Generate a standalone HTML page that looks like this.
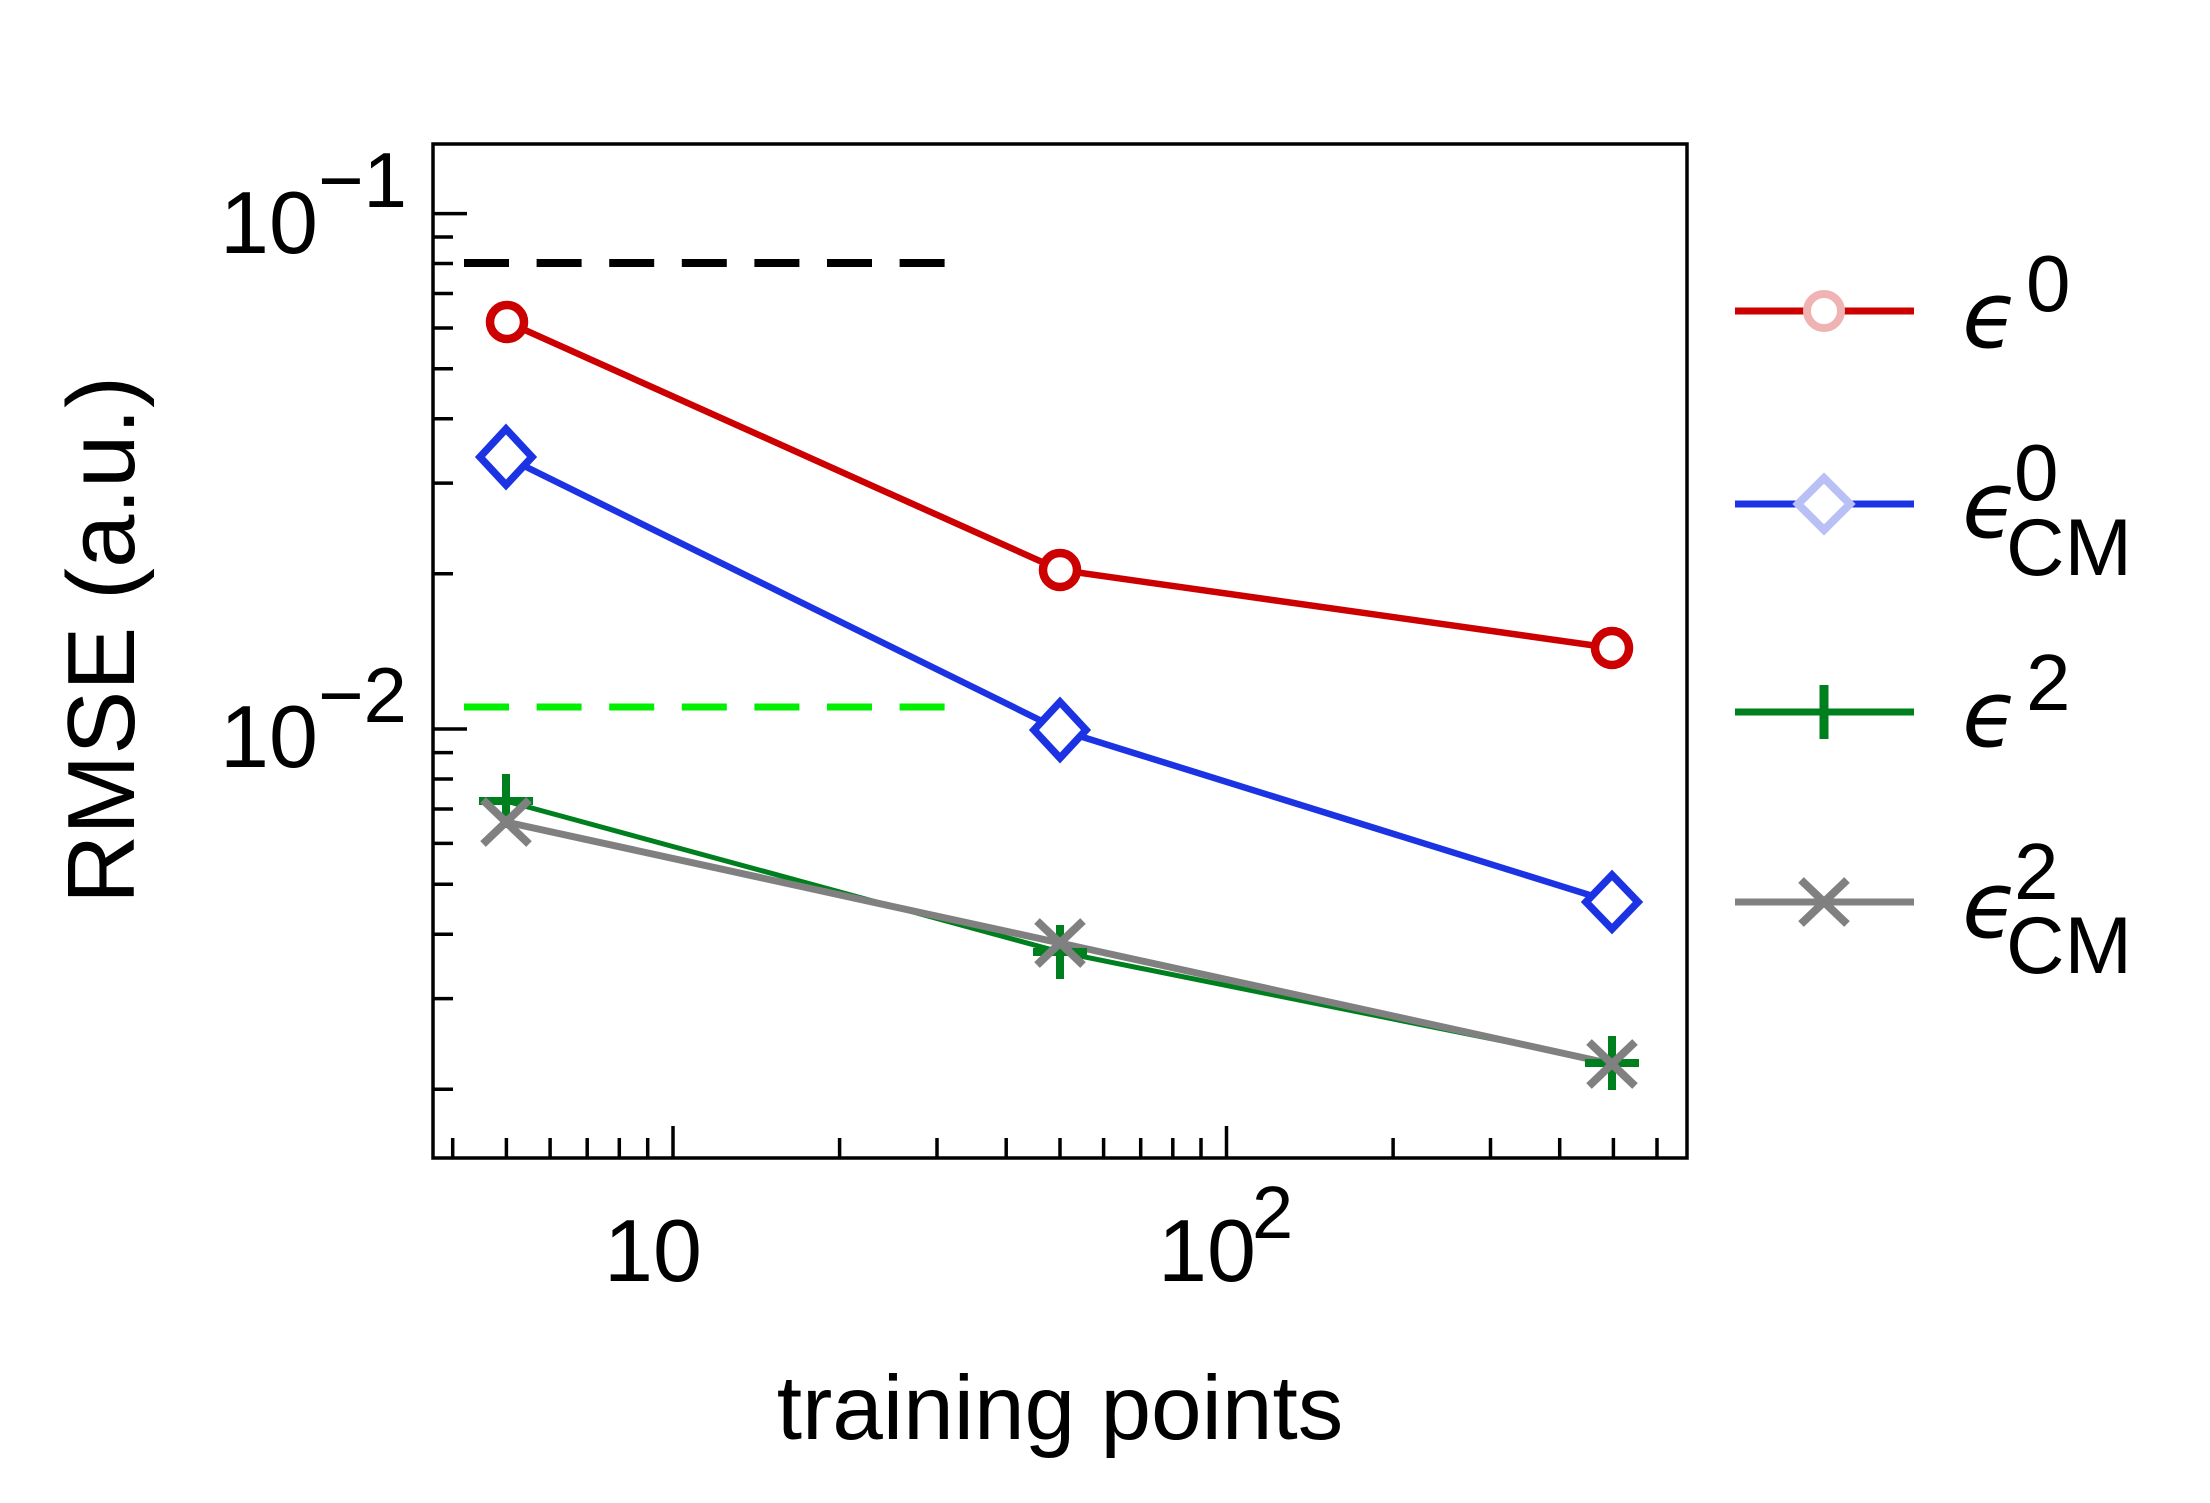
<!DOCTYPE html>
<html><head><meta charset="utf-8"><style>
html,body{margin:0;padding:0;background:#fff;}
svg{display:block;}
text{font-family:"Liberation Sans","DejaVu Sans",sans-serif;fill:#000;}
.eps{font-family:"DejaVu Sans","Liberation Sans",sans-serif;font-style:italic;}
</style></head><body>
<svg width="2210" height="1503" viewBox="0 0 2210 1503" xmlns="http://www.w3.org/2000/svg">
<rect width="2210" height="1503" fill="#fff"/>
<g stroke="#000" stroke-width="3.5">
<line x1="433" y1="213.6" x2="467" y2="213.6"/>
<line x1="433" y1="729" x2="467" y2="729"/>
<line x1="433" y1="1089.3" x2="453" y2="1089.3"/>
<line x1="433" y1="998.6" x2="453" y2="998.6"/>
<line x1="433" y1="934.2" x2="453" y2="934.2"/>
<line x1="433" y1="884.2" x2="453" y2="884.2"/>
<line x1="433" y1="843.4" x2="453" y2="843.4"/>
<line x1="433" y1="809" x2="453" y2="809"/>
<line x1="433" y1="779" x2="453" y2="779"/>
<line x1="433" y1="752.6" x2="453" y2="752.6"/>
<line x1="433" y1="573.8" x2="453" y2="573.8"/>
<line x1="433" y1="483.1" x2="453" y2="483.1"/>
<line x1="433" y1="418.7" x2="453" y2="418.7"/>
<line x1="433" y1="368.7" x2="453" y2="368.7"/>
<line x1="433" y1="328" x2="453" y2="328"/>
<line x1="433" y1="293.5" x2="453" y2="293.5"/>
<line x1="433" y1="263.5" x2="453" y2="263.5"/>
<line x1="433" y1="237" x2="453" y2="237"/>
<line x1="673" y1="1158" x2="673" y2="1126"/>
<line x1="1226.5" y1="1158" x2="1226.5" y2="1126"/>
<line x1="452.7" y1="1158" x2="452.7" y2="1138"/>
<line x1="506.4" y1="1158" x2="506.4" y2="1138"/>
<line x1="550.1" y1="1158" x2="550.1" y2="1138"/>
<line x1="587.2" y1="1158" x2="587.2" y2="1138"/>
<line x1="619.3" y1="1158" x2="619.3" y2="1138"/>
<line x1="647.7" y1="1158" x2="647.7" y2="1138"/>
<line x1="839.6" y1="1158" x2="839.6" y2="1138"/>
<line x1="937" y1="1158" x2="937" y2="1138"/>
<line x1="1006.2" y1="1158" x2="1006.2" y2="1138"/>
<line x1="1060" y1="1158" x2="1060" y2="1138"/>
<line x1="1103.6" y1="1158" x2="1103.6" y2="1138"/>
<line x1="1140.7" y1="1158" x2="1140.7" y2="1138"/>
<line x1="1172.8" y1="1158" x2="1172.8" y2="1138"/>
<line x1="1201" y1="1158" x2="1201" y2="1138"/>
<line x1="1393.1" y1="1158" x2="1393.1" y2="1138"/>
<line x1="1490.5" y1="1158" x2="1490.5" y2="1138"/>
<line x1="1559.7" y1="1158" x2="1559.7" y2="1138"/>
<line x1="1613.4" y1="1158" x2="1613.4" y2="1138"/>
<line x1="1657" y1="1158" x2="1657" y2="1138"/>
</g>
<rect x="433" y="144" width="1254" height="1014" fill="none" stroke="#000" stroke-width="3.5"/>
<line x1="464" y1="263" x2="946" y2="263" stroke="#000" stroke-width="8" stroke-dasharray="45 27.6"/>
<line x1="464" y1="707" x2="946" y2="707" stroke="#00ee00" stroke-width="7" stroke-dasharray="45 27.6"/>
<polyline points="507,322 1060,570 1612,648" fill="none" stroke="#cc0000" stroke-width="6.5"/>
<polyline points="506,457 1060,730 1612,902" fill="none" stroke="#1c33e3" stroke-width="6.5"/>
<polyline points="506,801 1060,952 1612,1063" fill="none" stroke="#007f1e" stroke-width="5"/>
<polyline points="506,822 1060,943 1612,1064" fill="none" stroke="#808080" stroke-width="7"/>
<g fill="#fff" stroke="#cc0000" stroke-width="8.5">
<circle cx="507" cy="322" r="17"/><circle cx="1060" cy="570" r="17"/><circle cx="1612" cy="648" r="17"/>
</g>
<g fill="#fff" stroke="#1c33e3" stroke-width="7.5">
<polygon points="506,429 532,457 506,485 480,457"/>
<polygon points="1060,702 1086,730 1060,758 1034,730"/>
<polygon points="1612,875 1638,902 1612,929 1586,902"/>
</g>
<g stroke="#007f1e" stroke-width="8">
<line x1="506" y1="774" x2="506" y2="828"/><line x1="479" y1="801" x2="533" y2="801"/>
<line x1="1060" y1="925" x2="1060" y2="979"/><line x1="1033" y1="952" x2="1087" y2="952"/>
<line x1="1612" y1="1036" x2="1612" y2="1090"/><line x1="1585" y1="1063" x2="1639" y2="1063"/>
</g>
<g stroke="#808080" stroke-width="8">
<line x1="483" y1="800" x2="529" y2="844"/><line x1="483" y1="844" x2="529" y2="800"/>
<line x1="1037" y1="921" x2="1083" y2="965"/><line x1="1037" y1="965" x2="1083" y2="921"/>
<line x1="1589" y1="1042" x2="1635" y2="1086"/><line x1="1589" y1="1086" x2="1635" y2="1042"/>
</g>
<text x="220" y="253" font-size="88">10</text>
<text x="318" y="207" font-size="78">−1</text>
<text x="220" y="767" font-size="88">10</text>
<text x="318" y="722" font-size="78">−2</text>
<text x="604" y="1281" font-size="88">10</text>
<text x="1158" y="1281" font-size="88">10</text>
<text x="1252" y="1238" font-size="74">2</text>
<text x="1060" y="1439" font-size="91" text-anchor="middle">training points</text>
<text transform="translate(134,640) rotate(-90)" font-size="96" text-anchor="middle">RMSE (a.u.)</text>
<line x1="1735" y1="311" x2="1914" y2="311" stroke="#cc0000" stroke-width="7"/>
<circle cx="1824" cy="311" r="17" fill="#fff" stroke="#f0b3b3" stroke-width="8"/>
<line x1="1735" y1="504" x2="1914" y2="504" stroke="#1c33e3" stroke-width="7"/>
<polygon points="1824,478 1850,504 1824,530 1798,504" fill="#fff" stroke="#b9c0f5" stroke-width="8"/>
<line x1="1735" y1="712" x2="1914" y2="712" stroke="#007f1e" stroke-width="7"/>
<line x1="1824" y1="685" x2="1824" y2="739" stroke="#007f1e" stroke-width="9"/>
<line x1="1797" y1="712" x2="1851" y2="712" stroke="#007f1e" stroke-width="7"/>
<line x1="1735" y1="902" x2="1914" y2="902" stroke="#808080" stroke-width="7"/>
<line x1="1801" y1="880" x2="1847" y2="924" stroke="#808080" stroke-width="8"/>
<line x1="1801" y1="924" x2="1847" y2="880" stroke="#808080" stroke-width="8"/>
<text class="eps" x="1962" y="347" font-size="92">ϵ</text>
<text x="2026" y="311" font-size="80">0</text>
<text class="eps" x="1962" y="537" font-size="92">ϵ</text>
<text x="2014" y="500" font-size="80">0</text>
<text x="2006" y="575" font-size="81">CM</text>
<text class="eps" x="1962" y="746" font-size="92">ϵ</text>
<text x="2026" y="710" font-size="80">2</text>
<text class="eps" x="1962" y="937" font-size="92">ϵ</text>
<text x="2014" y="899" font-size="80">2</text>
<text x="2006" y="973" font-size="81">CM</text>
</svg>
</body></html>
